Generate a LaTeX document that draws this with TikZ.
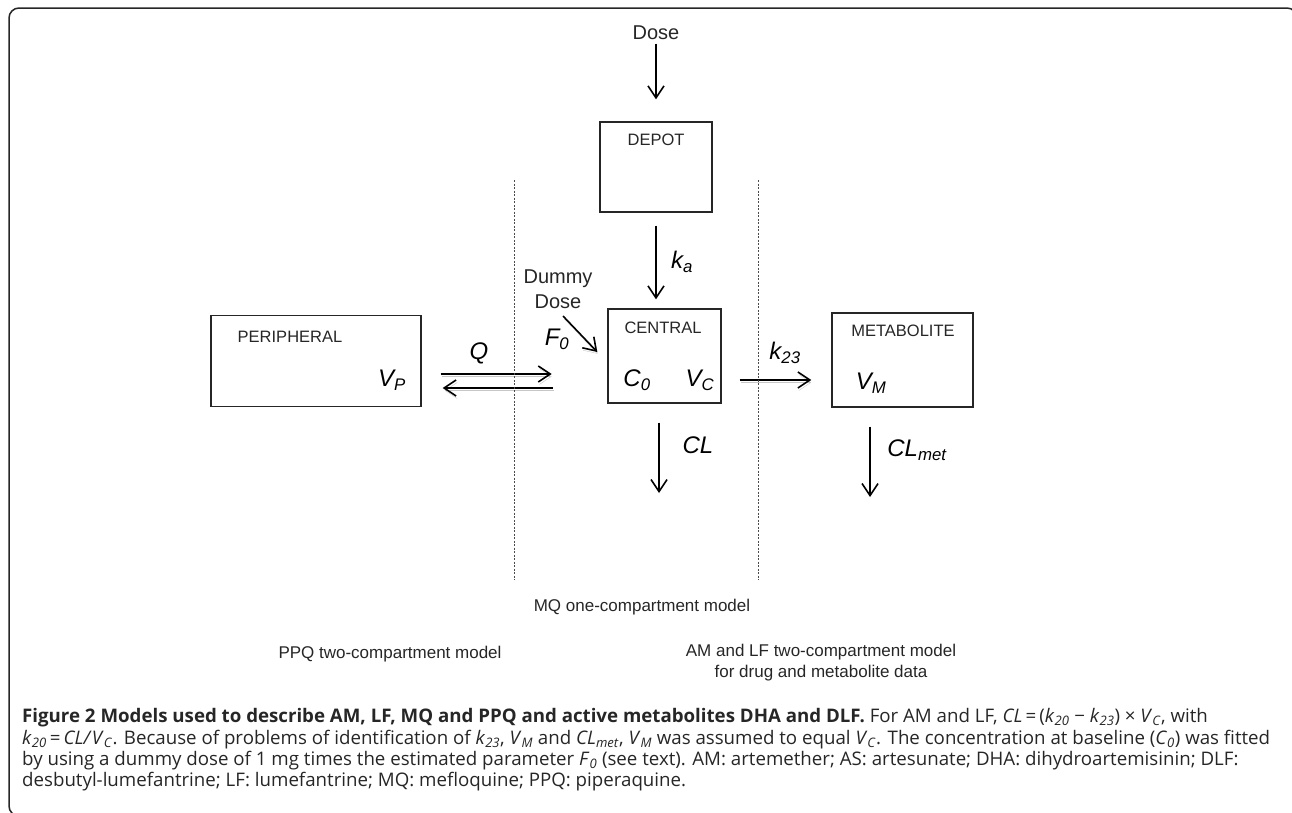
\documentclass[tikz,border=0pt]{standalone}
\usepackage{fontspec}
\usepackage{graphicx}
\setmainfont{Liberation Sans}
\newfontfamily\capfont{Open Sans}
\usetikzlibrary{arrows.meta, positioning}

\newcommand{\varsub}[2]{\textit{#1}\textsubscript{\textit{#2}}}

\tikzset{
    % Compartments
    cbox/.style={rectangle, draw=black!85, line width=1.4pt, inner sep=0pt},
    ctitle/.style={font=\fontsize{16.5}{19}\selectfont, text=black!85},
    % Labels
    plbl/.style={font=\fontsize{20}{25}\selectfont, align=center, text=black!85},
    vlbl/.style={font=\fontsize{24}{27}\selectfont\itshape, text=black},
    mlbl/.style={font=\fontsize{17}{21}\selectfont, align=center, text=black!85},
    % Arrows
    flow/.style={-{Straight Barb[length=12pt, width=16pt]}, line width=1.6pt, black},
    sflow/.style={flow, preaction={draw, gray!45, transform canvas={xshift=1pt, yshift=-2.5pt}}},
    sepline/.style={black!70, line width=0.9pt, dash pattern=on 2pt off 1.5pt},
    % Frame and caption
    frame/.style={draw=black!85, line width=1.5pt, rounded corners=10pt},
    capnode/.style={font=\capfont\fontsize{19.5}{22.3}\selectfont,
                    inner sep=0pt, text=black!85},
}

\begin{document}
\begin{tikzpicture}[x=1pt, y=-1pt]
\useasboundingbox (0,0) rectangle (1292,812);
\clip (0,0) rectangle (1292,812);

\draw[frame] (9,8) rectangle (1297,816);

% Compartments
\node[cbox, minimum width=112pt, minimum height=90pt] (depot)   at (656,167)   {};
\node[cbox, minimum width=113pt, minimum height=94pt] (central) at (664.5,356) {};
\node[cbox, minimum width=210pt, minimum height=91pt] (periph)  at (316,361)   {};
\node[cbox, minimum width=141pt, minimum height=94pt] (metab)   at (902.5,360) {};

\node[ctitle] (depottl)   at (656,140) {DEPOT};
\node[ctitle] (centraltl) at (663,328) {CENTRAL};
\node[ctitle] (periphtl)  at (290,337) {PERIPHERAL};
\node[ctitle] (metabtl)   at (903,331) {METABOLITE};

% Parameters inside the boxes
\node[vlbl] (c0) at (637,380) {\varsub{C}{0}};
\node[vlbl] (vc) at (700,380) {\varsub{V}{C}};
\node[vlbl] (vp) at (392,380) {\varsub{V}{P}};
\node[vlbl] (vm) at (871,383) {\varsub{V}{M}};

% Inputs
\node[plbl] (dose)  at (656,33)  {Dose};
\node[plbl] (dummy) at (558,289) {Dummy\\Dose};
\node[vlbl] (f0)    at (557,339) {\varsub{F}{0}};
\node[vlbl] (ka)    at (682,262) {\varsub{k}{a}};

\draw[flow, shorten >=22pt] (dose) -- (depot);
\draw[flow, shorten <=13pt, shorten >=9pt] (depot) -- (depot |- central.north);
\draw[sflow] ([xshift=5pt, yshift=-4pt]dummy.south) -- ([xshift=-10pt, yshift=4pt]central.west);

% Distribution
\node[vlbl] (q) at (479,353) {Q};
\draw[sflow] ([xshift=19pt, yshift=-13pt]periph.east) -- ++(111,0);
\draw[sflow] ([xshift=131pt, yshift=-27pt]periph.east) -- ++(-110,0);

% Metabolism
\node[vlbl] (k23) at (785,353) {\varsub{k}{23}};
\draw[sflow, shorten <=18pt, shorten >=20pt] (central.east |- vc) -- (metab.west |- vc);

% Elimination
\coordinate (clout)  at (659,493);
\coordinate (clmout) at (870,497);
\node[vlbl] (cl)    at (698,445) {\textit{CL}};
\node[vlbl] (clmet) at (917,450) {\varsub{CL}{met}};
\draw[flow, shorten <=19pt] (clout |- central.south) -- (clout);
\draw[flow, shorten <=19pt] (clmout |- metab.south) -- (clmout);

% Model separators
\draw[sepline] (514,180) -- (514,580);
\draw[sepline] (758,180) -- (758,580);

\node[mlbl] (mq)   at (642,607) {MQ one-compartment model};
\node[mlbl] (ppq)  at (390,654) {PPQ two-compartment model};
\node[mlbl] (amlf) at (821,663) {AM and LF two-compartment model\\for drug and metabolite data};

% Caption
\node[capnode, anchor=north west] (cap) at (22,707.5) {\resizebox{1248pt}{!}{%
\begin{tabular}{@{}l@{}}
\textbf{Figure 2 Models used to describe AM, LF, MQ and PPQ and active metabolites DHA and DLF.} For AM and LF, \textit{CL}\,=\,(\varsub{k}{20} − \varsub{k}{23}) × \varsub{V}{C}, with\\
\varsub{k}{20}\,=\,\textit{CL/}\varsub{V}{C}. Because of problems of identification of \varsub{k}{23}, \varsub{V}{M} and \varsub{CL}{met}, \varsub{V}{M} was assumed to equal \varsub{V}{C}. The concentration at baseline (\varsub{C}{0}) was fitted\\
by using a dummy dose of 1 mg times the estimated parameter \varsub{F}{0} (see text). AM: artemether; AS: artesunate; DHA: dihydroartemisinin; DLF:\\
desbutyl-lumefantrine; LF: lumefantrine; MQ: mefloquine; PPQ: piperaquine.
\end{tabular}}};
\end{tikzpicture}
\end{document}
